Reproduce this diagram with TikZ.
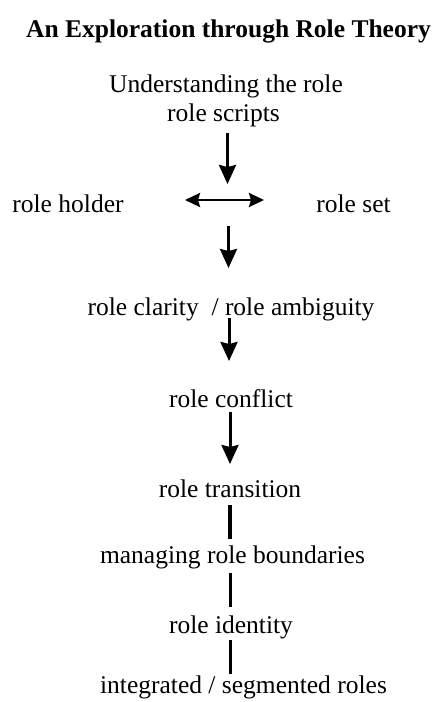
\documentclass[tikz,border=0pt]{standalone}
\usepackage{fontspec}
\setmainfont{Liberation Serif}
\usetikzlibrary{arrows.meta}
\begin{document}
\begin{tikzpicture}[x=1pt,y=-1pt,
  lbl/.style={anchor=base,inner sep=0pt,font=\fontsize{25.5}{30}\selectfont},
  ttl/.style={anchor=base,inner sep=0pt,font=\fontsize{25.5}{30}\selectfont\bfseries},
  link/.style={line width=3.6pt},
  arr/.style={line width=3pt,-{Stealth[length=19pt,width=17pt,inset=2pt]}},
  darr/.style={line width=2.6pt,{Stealth[length=15pt,width=14pt,inset=2pt]}-{Stealth[length=15pt,width=14pt,inset=2pt]}}]
\useasboundingbox (0,0) rectangle (434,702);

% headings and stages
\node[ttl] (title)    at (228.5,37) {An Exploration through Role Theory};
\node[lbl] (under)    at (226,92)   {Understanding the role};
\node[lbl] (scripts)  at (223.5,121){role scripts};
\node[lbl] (holder)   at (68,212)   {role holder};
\node[lbl] (set)      at (353.5,212){role set};
\node[lbl] (clarity)  at (231,315)  {role clarity\ \ / role ambiguity};
\node[lbl] (conflict) at (231,407)  {role conflict};
\node[lbl] (trans)    at (230,497)  {role transition};
\node[lbl] (bound)    at (232.5,563){managing role boundaries};
\node[lbl] (ident)    at (231,633)  {role identity};
\node[lbl] (integ)    at (243.5,693){integrated / segmented roles};

% connector end points
\coordinate (a1s) at (227.5,133);
\coordinate (a1e) at (227.5,184);
\coordinate (hl)  at (185,200);
\coordinate (hr)  at (264,200);
\coordinate (a2s) at (228.5,226);
\coordinate (a2e) at (228.5,268);
\coordinate (a3s) at (229,318);
\coordinate (a3e) at (229,361);
\coordinate (a4s) at (230,412);
\coordinate (a4e) at (230,464);
\coordinate (l1s) at (230,505);
\coordinate (l1e) at (230,539);
\coordinate (l2s) at (230.5,573);
\coordinate (l2e) at (230.5,607);
\coordinate (l3s) at (230.5,640);
\coordinate (l3e) at (230.5,674);

% arrows and links
\draw[arr]  (a1s) -- (a1e);
\draw[darr] (hl) -- (hr);
\draw[arr]  (a2s) -- (a2e);
\draw[arr]  (a3s) -- (a3e);
\draw[arr]  (a4s) -- (a4e);
\draw[link] (l1s) -- (l1e);
\draw[link] (l2s) -- (l2e);
\draw[link] (l3s) -- (l3e);
\end{tikzpicture}
\end{document}
